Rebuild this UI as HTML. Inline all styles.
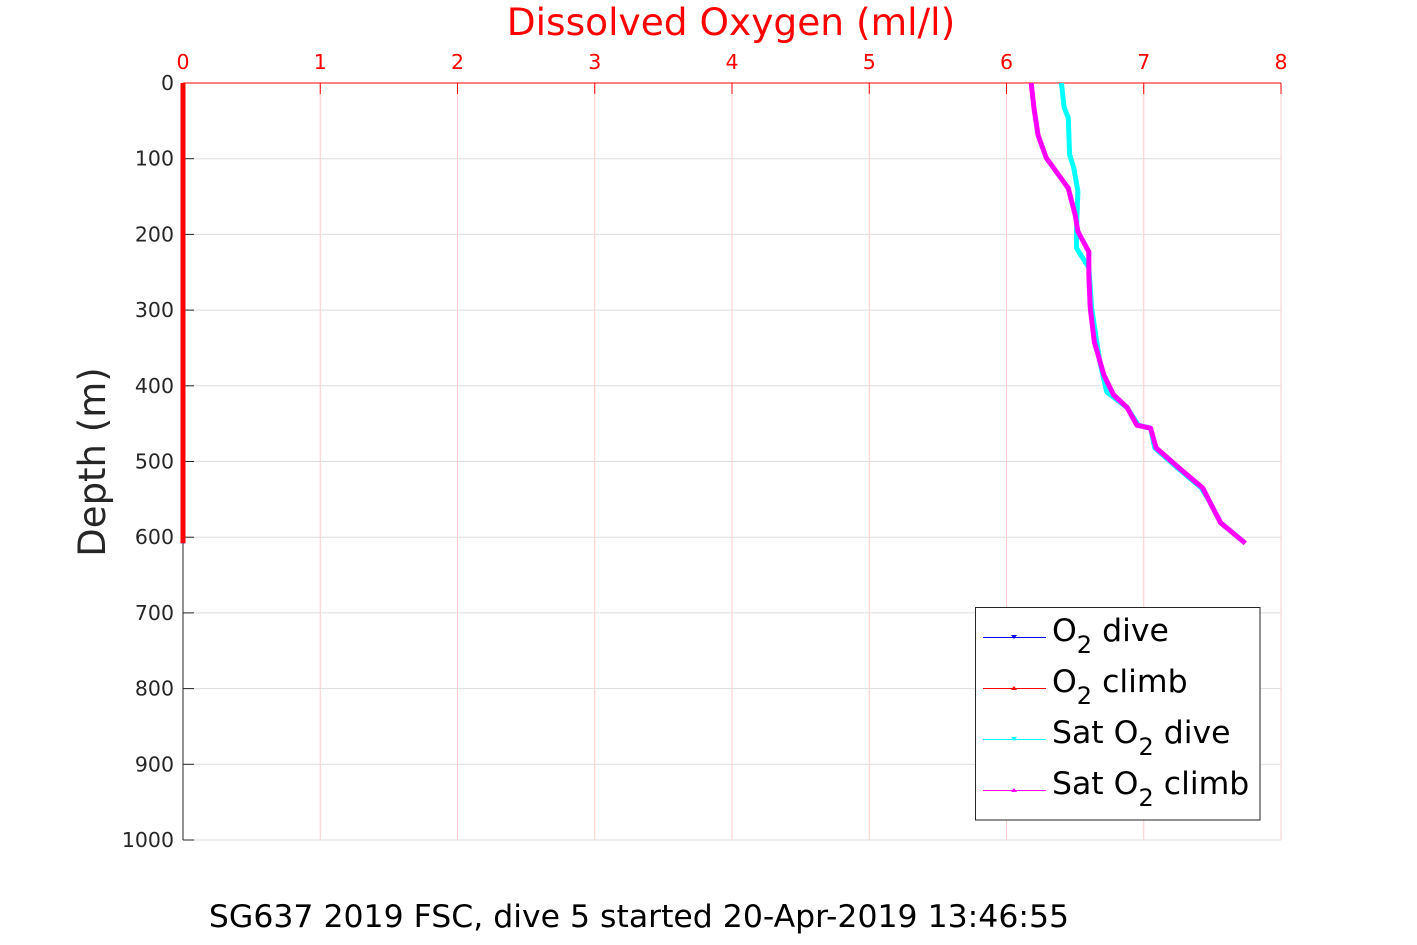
<!DOCTYPE html>
<html><head><meta charset="utf-8"><style>
body{margin:0;background:#fff;}
svg{display:block;font-family:"DejaVu Sans","Liberation Sans",sans-serif;}
</style></head><body>
<svg id="chart" width="1417" height="945" viewBox="0 0 1417 945" xmlns="http://www.w3.org/2000/svg">
<rect width="1417" height="945" fill="#fff"/>
<g id="grid"></g>
<g id="axes"></g>
<g id="series"></g>
<text x="731" y="35" text-anchor="middle" font-size="37.5" fill="#ff0000">Dissolved Oxygen (ml/l)</text>
<text transform="translate(105,462) rotate(-90)" text-anchor="middle" font-size="37" fill="#262626">Depth (m)</text>
<text x="639" y="927" text-anchor="middle" font-size="31.5" fill="#000">SG637 2019 FSC, dive 5 started 20-Apr-2019 13:46:55</text>
<g>
<rect x="975.5" y="607.5" width="284.5" height="212.5" fill="#fff" stroke="#262626" stroke-width="1"/>
<g><line x1="983" y1="637.5" x2="1046" y2="637.5" stroke="#0000ff" shape-rendering="crispEdges"/><path d="M1011,635 l6,0 l-3,4z" fill="#0000ff"/><text x="1052" y="641" font-size="31.5">O<tspan font-size="24" dy="12">2</tspan><tspan dy="-12"> dive</tspan></text></g>
<g><line x1="983" y1="688.5" x2="1046" y2="688.5" stroke="#ff0000" shape-rendering="crispEdges"/><path d="M1011,690 l6,0 l-3,-4z" fill="#ff0000"/><text x="1052" y="692" font-size="31.5">O<tspan font-size="24" dy="12">2</tspan><tspan dy="-12"> climb</tspan></text></g>
<g><line x1="983" y1="739.5" x2="1046" y2="739.5" stroke="#00ffff" shape-rendering="crispEdges"/><path d="M1011,737 l6,0 l-3,4z" fill="#00ffff"/><text x="1052" y="743" font-size="31.5">Sat O<tspan font-size="24" dy="12">2</tspan><tspan dy="-12"> dive</tspan></text></g>
<g><line x1="983" y1="790.5" x2="1046" y2="790.5" stroke="#ff00ff" shape-rendering="crispEdges"/><path d="M1011,792 l6,0 l-3,-4z" fill="#ff00ff"/><text x="1052" y="794" font-size="31.5">Sat O<tspan font-size="24" dy="12">2</tspan><tspan dy="-12"> climb</tspan></text></g>
</g>
</svg>
<script>
const xTicks=[0,1,2,3,4,5,6,7,8];
const yTicks=[0,100,200,300,400,500,600,700,800,900,1000];
const o2Depth=[0,608];
const o2Dive=[0,0];
const o2Climb=[0,0];
const satDiveDepth=[0,32,46,95,112,143,196,218,244,297,368,408,429,452,456,482,509,535,553,581,608];
const satDive=[6.40,6.42,6.45,6.46,6.49,6.52,6.51,6.51,6.60,6.62,6.68,6.73,6.88,6.96,7.05,7.08,7.25,7.42,7.48,7.56,7.74];
const satClimbDepth=[0,33,69,99,119,139,174,196,223,254,297,342,386,412,429,452,456,482,509,535,553,581,608];
const satClimb=[6.18,6.20,6.23,6.29,6.37,6.45,6.50,6.52,6.60,6.60,6.61,6.64,6.71,6.78,6.88,6.95,7.05,7.09,7.26,7.43,7.48,7.56,7.74];
const X0=183,X1=1281,Y0=83,Y1=840;
function sx(v){return X0+(v-0)/(8-0)*(X1-X0);}
function sy(d){return Y0+(d-0)/(1000-0)*(Y1-Y0);}
const NS='http://www.w3.org/2000/svg';
function mk(tag,attrs,parent){const e=document.createElementNS(NS,tag);for(const k in attrs)e.setAttribute(k,attrs[k]);parent.appendChild(e);return e;}
const grid=document.getElementById('grid'),axes=document.getElementById('axes'),series=document.getElementById('series');
xTicks.forEach(t=>{
  const l=mk('line',{x1:sx(t),x2:sx(t),y1:Y0,y2:Y1,stroke:'#ffcccc','stroke-width':1},grid);
  
  
  const tk=mk('line',{x1:sx(t),x2:sx(t),y1:Y0,y2:Y0+11,stroke:'#ff0000','stroke-width':1},axes);
  
  
  const tx=mk('text',{x:sx(t),y:Y0-14,'text-anchor':'middle','font-size':20.5,fill:'#ff0000'},axes);
  tx.textContent=t;
  
  
});
yTicks.forEach(t=>{
  const l=mk('line',{x1:X0,x2:X1,y1:sy(t),y2:sy(t),stroke:'#dddddd','stroke-width':1},grid);
  
  
  const tk=mk('line',{x1:X0,x2:X0+11,y1:sy(t),y2:sy(t),stroke:'#262626','stroke-width':1},axes);
  
  
  const tx=mk('text',{x:X0-9,y:sy(t)+7,'text-anchor':'end','font-size':20.5,fill:'#262626'},axes);
  tx.textContent=t;
  
  
});
const ya=mk('line',{x1:X0,x2:X0,y1:Y0,y2:Y1,stroke:'#262626'},axes);


const xa=mk('line',{x1:X0,x2:X1,y1:Y0,y2:Y0,stroke:'#ff0000'},axes);


function poly(vals,depths,color,w,name){
  const p=mk('polyline',{points:vals.map((v,i)=>sx(v)+','+sy(depths[i])).join(' '),fill:'none',stroke:color,'stroke-width':w,'stroke-linejoin':'round'},series);
  
  
}
poly(o2Dive,o2Depth,'#0000ff',5,'o2-dive-line');
poly(o2Climb,o2Depth,'#ff0000',5,'o2-climb-line');
poly(satDive,satDiveDepth,'#00ffff',5,'sat-o2-dive-line');
poly(satClimb,satClimbDepth,'#ff00ff',5,'sat-o2-climb-line');
</script>
</body></html>
